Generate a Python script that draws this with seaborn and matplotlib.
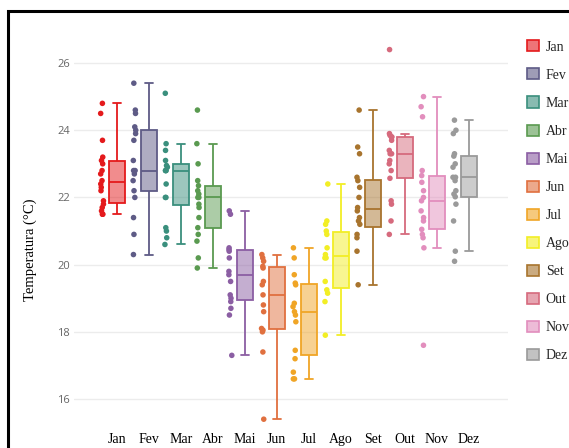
import numpy as np
import pandas as pd
import matplotlib
matplotlib.use("Agg")
import matplotlib.pyplot as plt
import matplotlib.transforms as mtransforms
from matplotlib.patches import Patch, Rectangle
from matplotlib.colors import to_rgba
import seaborn as sns

meses = ["Jan", "Fev", "Mar", "Abr", "Mai", "Jun", "Jul", "Ago", "Set", "Out", "Nov", "Dez"]
cores = ["#e41a1c", "#5e5b86", "#3a8f7d", "#5a9a50", "#8b5ea3", "#e0703f",
         "#f0a526", "#f2ee25", "#a8742e", "#d66a7d", "#e28ebd", "#9a9a9a"]

jan = [21.5, 21.5, 21.6, 21.7, 21.8, 21.9, 22.2, 22.3, 22.4, 22.5, 22.7, 22.8, 23.0, 23.1, 23.2, 23.7, 24.5, 24.8]
fev = [20.3, 20.9, 21.4, 22.0, 22.2, 22.5, 22.7, 22.8, 22.8, 23.1, 23.7, 23.9, 24.0, 24.1, 24.5, 24.6, 25.4]
mar = [20.6, 20.8, 21.0, 21.1, 22.0, 22.0, 22.4, 22.8, 22.8, 22.8, 22.9, 22.95, 23.1, 23.4, 23.6, 25.1]
abr = [19.9, 20.2, 20.7, 20.9, 21.1, 21.4, 21.7, 21.8, 22.0, 22.0, 22.1, 22.2, 22.35, 22.5, 23.0, 23.6, 24.6]
mai = [17.3, 18.5, 18.7, 18.9, 19.0, 19.1, 19.5, 19.7, 19.8, 20.2, 20.4, 20.45, 20.5, 21.5, 21.6]
jun = [15.4, 17.4, 18.0, 18.05, 18.1, 18.6, 18.8, 19.1, 19.4, 19.5, 19.9, 19.95, 20.1, 20.2, 20.3]
jul = [16.6, 16.6, 16.8, 17.2, 17.45, 18.3, 18.5, 18.6, 18.75, 18.85, 19.4, 19.45, 19.7, 20.2, 20.5]
ago = [17.9, 18.9, 19.15, 19.25, 19.5, 20.2, 20.2, 20.3, 20.5, 20.9, 21.0, 21.2, 21.3, 22.4]
set_ = [19.4, 20.4, 20.8, 20.9, 21.2, 21.3, 21.4, 21.6, 21.7, 22.0, 22.3, 22.5, 22.6, 23.3, 23.5, 24.6]
out = [20.9, 21.3, 21.8, 21.9, 22.57, 22.8, 23.0, 23.1, 23.3, 23.3, 23.4, 23.7, 23.8, 23.8, 23.85, 23.9, 26.4]
nov = [17.6, 20.5, 20.8, 20.9, 21.05, 21.3, 21.4, 21.6, 21.9, 22.0, 22.2, 22.45, 22.65, 22.8, 24.4, 24.7, 25.0]
dez = [20.1, 20.4, 21.3, 21.8, 22.02, 22.1, 22.2, 22.5, 22.6, 22.6, 22.9, 23.0, 23.23, 23.3, 23.9, 24.0, 24.3]

valores = [jan, fev, mar, abr, mai, jun, jul, ago, set_, out, nov, dez]
yticks = [16, 18, 20, 22, 24, 26]

df = pd.DataFrame({
    "mes": np.repeat(meses, [len(v) for v in valores]),
    "temp": np.concatenate(valores),
})

sns.set_theme(style="white")
fig = plt.figure(figsize=(5.69, 4.48), dpi=100)
ax = fig.add_axes([0.1308, 0.0493, 0.762, 0.885])

for mes, cor in zip(meses, cores):
    sub = df[df["mes"] == mes]
    sns.boxplot(data=sub, x="mes", y="temp", order=meses, color=cor, linecolor=cor,
                width=0.5, showfliers=False, linewidth=1.3, saturation=1,
                boxprops={"facecolor": to_rgba(cor, 0.5)}, ax=ax)

n0 = len(ax.collections)
np.random.seed(3)
sns.stripplot(data=df, x="mes", y="temp", hue="mes", order=meses, hue_order=meses,
              palette=cores, jitter=0.05, size=4, linewidth=0, legend=False, ax=ax)
shift = mtransforms.ScaledTranslation(-0.145, 0, fig.dpi_scale_trans)
for c in ax.collections[n0:]:
    c.set_offset_transform(c.get_offset_transform() + shift)

ax.set_xlim(-1.32, 12.22)
ax.set_ylim(15.2, 27.0)
ax.set_yticks(yticks)
ax.set_yticklabels([str(t) for t in yticks], family="Open Sans", fontsize=8, color="#666666")
ax.tick_params(axis="y", length=0, pad=3)
ax.tick_params(axis="x", length=0, pad=5)
for lab in ax.get_xticklabels():
    lab.set_family("Liberation Serif")
    lab.set_fontsize(10)
    lab.set_color("black")
ax.yaxis.grid(True, color="#ececec", lw=1)
ax.xaxis.grid(False)
ax.set_axisbelow(True)
for s in ax.spines.values():
    s.set_visible(False)
ax.set_xlabel("")
ax.set_ylabel("Temperatura (°C)", family="Liberation Serif", fontsize=10.5, color="black")
ax.yaxis.set_label_coords(-0.086, 0.444)

handles = [Patch(facecolor=to_rgba(c, 0.6), edgecolor=c, linewidth=1.2, label=m)
           for m, c in zip(meses, cores)]
ax.legend(handles=handles, loc="upper left", bbox_to_anchor=(0.926, 0.910),
          bbox_transform=fig.transFigure, frameon=False,
          prop={"family": "Liberation Serif", "size": 10},
          handlelength=0.85, handleheight=0.85, handletextpad=0.5,
          labelspacing=1.06, borderaxespad=0, borderpad=0)

fig.patches.append(Rectangle((8 / 569, -0.2), 1.2, 1.2 - 11 / 448, transform=fig.transFigure,
                             fill=False, edgecolor="black", linewidth=2.2, clip_on=False))

fig.savefig("out.png", dpi=100)
